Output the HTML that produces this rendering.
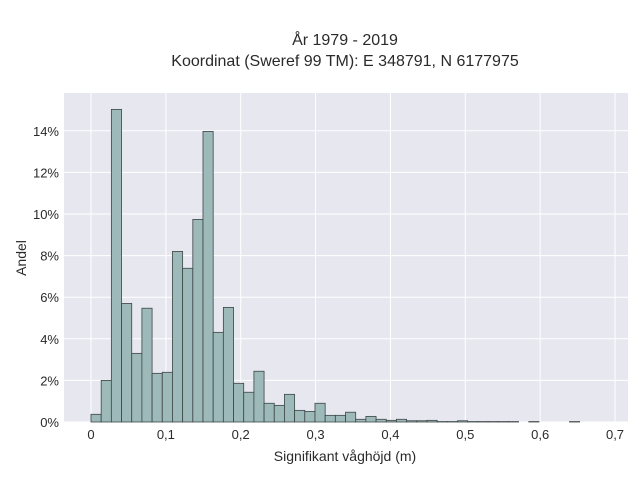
<!DOCTYPE html>
<html><head><meta charset="utf-8"><style>
body{margin:0;background:#fff;}
svg text{font-family:"Liberation Sans",sans-serif;fill:#2a2a2a;}
</style></head><body>
<svg id="chart" width="640" height="480">
<rect x="0" y="0" width="640" height="480" fill="#fff"/>
<text x="345" y="45" text-anchor="middle" font-size="16">År 1979 - 2019</text>
<text x="345" y="66" text-anchor="middle" font-size="16">Koordinat (Sweref 99 TM): E 348791, N 6177975</text>
<rect x="64" y="93" width="564" height="329" fill="#e7e7f0"/>
<g id="grid"></g><g id="bars"></g><g id="ticks"></g>
<text x="345" y="461" text-anchor="middle" font-size="14">Signifikant våghöjd (m)</text>
<text x="26" y="258" text-anchor="middle" font-size="14" transform="rotate(-90 26 258)">Andel</text>
</svg>
<script>
const binWidth = 0.0136;
const values = [0.37,2.0,15.03,5.7,3.3,5.47,2.34,2.39,8.2,7.39,9.74,13.97,4.31,5.51,1.86,1.43,2.44,0.9,0.8,1.33,0.56,0.51,0.9,0.32,0.32,0.47,0.13,0.27,0.13,0.08,0.13,0.06,0.06,0.08,0.02,0.02,0.06,0.02,0.02,0.02,0.02,0.02,0,0.02,0,0,0,0.02,0,0];
const xTicks = [0,0.1,0.2,0.3,0.4,0.5,0.6,0.7];
const yTicks = [0,2,4,6,8,10,12,14];
const ns="http://www.w3.org/2000/svg";
const X=v=>91+v*748.6, Y=v=>422-v*20.8;
function mk(t,a,p){const e=document.createElementNS(ns,t);for(const k in a)e.setAttribute(k,a[k]);p.appendChild(e);return e;}
const g=document.getElementById('grid'),b=document.getElementById('bars'),tk=document.getElementById('ticks');
xTicks.forEach(v=>{const l=mk('line',{x1:X(v),x2:X(v),y1:93,y2:422,stroke:'#fff','stroke-width':1},g);


const t=mk('text',{x:X(v),y:439,'text-anchor':'middle','font-size':13},tk);t.textContent=String(v).replace('.',',');

});
yTicks.forEach(v=>{const l=mk('line',{x1:64,x2:628,y1:Y(v),y2:Y(v),stroke:'#fff','stroke-width':1},g);


const t=mk('text',{x:59,y:Y(v)+5,'text-anchor':'end','font-size':13},tk);t.textContent=v+'%';

});
values.forEach((v,i)=>{if(v<=0)return;const x0=X(i*binWidth),x1=X((i+1)*binWidth);
const r=mk('rect',{x:x0,y:Y(v),width:x1-x0,height:422-Y(v),fill:'#9eb9b9',stroke:'#3c4646','stroke-width':0.8},b);

});
</script>
</body></html>
